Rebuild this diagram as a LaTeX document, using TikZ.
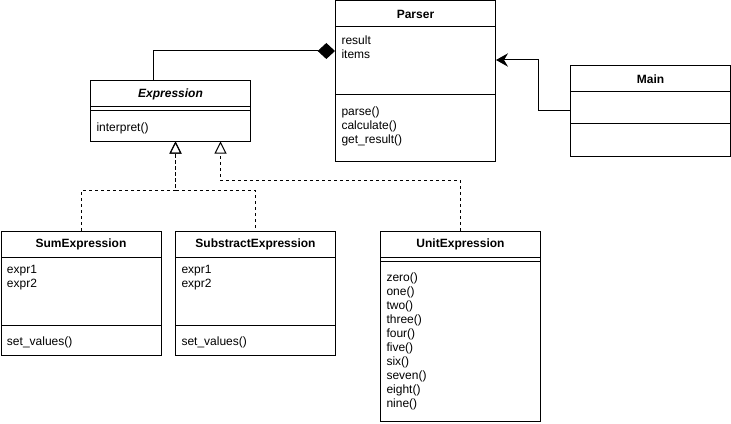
\documentclass[tikz,border=0pt]{standalone}
\usepackage{fontspec}
\setmainfont{Liberation Sans}
\usetikzlibrary{arrows.meta}

\tikzset{
    head/.style={draw, anchor=north west, minimum width=120pt, minimum height=19.5pt, inner sep=0pt, font=\fontsize{9pt}{10.5pt}\selectfont\bfseries},
    part/.style={draw, anchor=north west, minimum width=120pt, inner sep=0pt},
    members/.style={anchor=north west, align=left, inner sep=0pt, font=\fontsize{9pt}{10.5pt}\selectfont},
    compose/.style={-{Diamond[length=13pt, width=12pt]}},
    assoc/.style={-{Stealth[length=9pt, width=10pt, inset=3pt]}},
    realize/.style={dash pattern=on 2.25pt off 2.25pt, -{Triangle[open, length=9pt, width=9pt]}}
}

\begin{document}
\begin{tikzpicture}[x=0.75pt, y=-0.75pt, line width=0.75pt]
        \useasboundingbox (0,-0.5) rectangle (731,423.5);

        %%%%%%%%%% Classi %%%%%%%%%%
        \node[head] (ParserHead) at (335,0) {Parser};
        \node[part, minimum height=51pt] (ParserAttr) at (335,26) {};
        \node[part, minimum height=49.5pt] (ParserOps) at (335,94) {};
        \node[members] (ParserAttrText) at ([xshift=4.5pt, yshift=-6.5pt]ParserAttr.north west) {result\\items};
        \node[members] (ParserOpsText) at ([xshift=4.5pt, yshift=-9pt]ParserOps.north west) {parse()\\calculate()\\get\_result()};

        \node[head] (MainHead) at (570,65) {Main};
        \node[part, minimum height=24pt] (MainAttr) at (570,91) {};
        \node[part, minimum height=24pt] (MainOps) at (570,123) {};

        \node[head, font=\fontsize{9pt}{10.5pt}\selectfont\bfseries\itshape] (ExprHead) at (90,80) {Expression};
        \node[part, minimum height=3pt] (ExprAttr) at (90,106) {};
        \node[part, minimum height=22.5pt] (ExprOps) at (90,110) {};
        \node[members] (ExprOpsText) at ([xshift=4.5pt, yshift=-9pt]ExprOps.north west) {interpret()};

        \node[head] (SumHead) at (0.5,230) {SumExpression};
        \node[part, minimum height=51pt] (SumAttr) at (0.5,256) {};
        \node[part, minimum height=22.5pt] (SumOps) at (0.5,324) {};
        \node[members] (SumAttrText) at ([xshift=4.5pt, yshift=-6.5pt]SumAttr.north west) {expr1\\expr2};
        \node[members] (SumOpsText) at ([xshift=4.5pt, yshift=-9pt]SumOps.north west) {set\_values()};

        \node[head] (SubHead) at (175,230) {SubstractExpression};
        \node[part, minimum height=51pt] (SubAttr) at (175,256) {};
        \node[part, minimum height=22.5pt] (SubOps) at (175,324) {};
        \node[members] (SubAttrText) at ([xshift=4.5pt, yshift=-6.5pt]SubAttr.north west) {expr1\\expr2};
        \node[members] (SubOpsText) at ([xshift=4.5pt, yshift=-9pt]SubOps.north west) {set\_values()};

        \node[head] (UnitHead) at (380,230) {UnitExpression};
        \node[part, minimum height=3pt] (UnitAttr) at (380,256) {};
        \node[part, minimum height=120pt] (UnitOps) at (380,260) {};
        \node[members] (UnitOpsText) at ([xshift=4.5pt, yshift=-9pt]UnitOps.north west) {zero()\\one()\\two()\\three()\\four()\\five()\\six()\\seven()\\eight()\\nine()};

        %%%%%%%%% Relazioni %%%%%%%%%%
        \draw[compose] ([xshift=-12.75pt]ExprHead.north) |- ([yshift=7.5pt]ParserAttr.west);
        \draw[assoc] ([yshift=-2.25pt]MainAttr.west) -- ++(-24pt,0) |- ([yshift=0.75pt]ParserAttr.east);
        \draw[realize] (SumHead.north) -- ++(0,30pt) -| ([xshift=3.75pt]ExprOps.south);
        \draw[realize, dash phase=2.25pt] (SubHead.north) -- ++(0,30pt) -| ([xshift=3.75pt]ExprOps.south);
        \draw[realize] (UnitHead.north) -- ++(0,37.5pt) -| ([xshift=37.5pt]ExprOps.south);
    \end{tikzpicture}
\end{document}
